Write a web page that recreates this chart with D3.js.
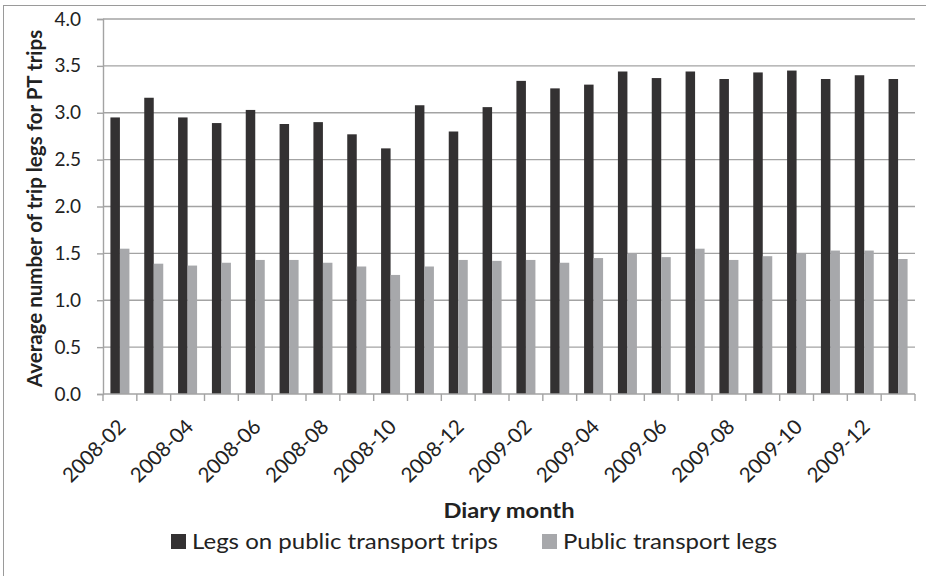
<!DOCTYPE html>
<html>
<head>
<meta charset="utf-8">
<script src="https://cdn.jsdelivr.net/npm/d3@7"></script>
<style>
  body { margin: 0; background: #fff; }
  text { font-family: Lato, "Open Sans", sans-serif; fill: #222; }
</style>
</head>
<body>
<div id="chart"></div>
<script>
const months = ["2008-02", "2008-03", "2008-04", "2008-05", "2008-06", "2008-07", "2008-08", "2008-09",
    "2008-10", "2008-11", "2008-12", "2009-01", "2009-02", "2009-03", "2009-04", "2009-05",
    "2009-06", "2009-07", "2009-08", "2009-09", "2009-10", "2009-11", "2009-12", "2010-01"];
const legsOnPtTrips = [2.95, 3.16, 2.95, 2.89, 3.03, 2.88, 2.90, 2.77, 2.62, 3.08, 2.80, 3.06,
    3.34, 3.26, 3.30, 3.44, 3.37, 3.44, 3.36, 3.43, 3.45, 3.36, 3.40, 3.36];
const ptLegs = [1.55, 1.39, 1.37, 1.40, 1.43, 1.43, 1.40, 1.36, 1.27, 1.36, 1.43, 1.42,
    1.43, 1.40, 1.45, 1.50, 1.46, 1.55, 1.43, 1.47, 1.50, 1.53, 1.53, 1.44];
const seriesNames = ["Legs on public transport trips", "Public transport legs"];
const yTicks = [0, 0.5, 1, 1.5, 2, 2.5, 3, 3.5, 4];

const width = 926, height = 576;
const margin = {top: 19, right: 11, bottom: 182, left: 103};
const colors = ["#333132", "#a7a8ab"];

const svg = d3.select("#chart").append("svg")
    .attr("width", width)
    .attr("height", height);

// outer frame (only left and top edges show)
svg.append("rect")
    .attr("x", 3.5).attr("y", 5.5)
    .attr("width", 930).attr("height", 580)
    .attr("fill", "none")
    .attr("stroke", "#9a9a9a");

const x = d3.scaleBand()
    .domain(months)
    .range([margin.left, width - margin.right]);

const x1 = d3.scaleBand()
    .domain([0, 1])
    .range([0, x.bandwidth()])
    .paddingInner(0)
    .paddingOuter(0.78);

const y = d3.scaleLinear()
    .domain([0, 4])
    .range([height - margin.bottom, margin.top]);

// gridlines
svg.append("g")
    .selectAll("line")
    .data(yTicks.filter(d => d > 0))
    .join("line")
    .attr("x1", margin.left)
    .attr("x2", width - margin.right)
    .attr("y1", d => y(d))
    .attr("y2", d => y(d))
    .attr("stroke", "#a3a3a3")
    .attr("stroke-width", 1.4);

// bars
const rows = months.map((m, i) => [legsOnPtTrips[i], ptLegs[i]]);
const groups = svg.append("g")
    .selectAll("g")
    .data(rows)
    .join("g")
    .attr("transform", (d, i) => `translate(${x(months[i])},0)`);

groups.selectAll("rect")
    .data(d => d)
    .join("rect")
    .attr("x", (d, j) => x1(j))
    .attr("width", x1.bandwidth())
    .attr("y", d => y(d))
    .attr("height", d => y(0) - y(d))
    .attr("fill", (d, j) => colors[j]);

// y axis
const yAxis = svg.append("g")
    .attr("transform", `translate(${margin.left},0)`)
    .call(d3.axisLeft(y).tickValues(yTicks).tickFormat(d3.format(".1f")).tickSize(6).tickPadding(16));
yAxis.select(".domain").attr("stroke", "#a3a3a3").attr("stroke-width", 1.4);
yAxis.selectAll(".tick line").attr("stroke", "#a3a3a3").attr("stroke-width", 1.4);
yAxis.selectAll(".tick text")
    .style("font-size", "19px")
    .attr("fill", "#222");

// x axis with ticks at category boundaries
const xAxis = svg.append("g")
    .attr("transform", `translate(0,${y(0)})`);
xAxis.append("line")
    .attr("x1", margin.left)
    .attr("x2", width - margin.right)
    .attr("stroke", "#a3a3a3")
    .attr("stroke-width", 1.4);
xAxis.selectAll(".bt")
    .data(months.concat(["end"]))
    .join("line")
    .attr("class", "bt")
    .attr("x1", (d, i) => margin.left + i * x.step())
    .attr("x2", (d, i) => margin.left + i * x.step())
    .attr("y1", 0)
    .attr("y2", 7)
    .attr("stroke", "#a3a3a3")
    .attr("stroke-width", 1.4);

xAxis.selectAll(".lbl")
    .data(months.filter((d, i) => i % 2 === 0))
    .join("text")
    .attr("class", "lbl")
    .attr("transform", d => `translate(${x(d) + x.bandwidth() / 2 + 7},${34}) rotate(-45)`)
    .attr("text-anchor", "end")
    .style("font-size", "20.5px")
    .text(d => d);

// axis titles
svg.append("text")
    .attr("x", (margin.left + width - margin.right) / 2)
    .attr("y", 518)
    .attr("text-anchor", "middle")
    .attr("textLength", 131)
    .attr("lengthAdjust", "spacingAndGlyphs")
    .style("font-size", "21px")
    .style("font-weight", "bold")
    .text("Diary month");

svg.append("text")
    .attr("transform", `translate(42,${(margin.top + y(0)) / 2 + 2}) rotate(-90)`)
    .attr("text-anchor", "middle")
    .style("font-size", "20.5px")
    .style("font-weight", "bold")
    .text("Average number of trip legs for PT trips");

// legend
const legendX = [171, 542];
const legendLen = [306, 214];
const legend = svg.append("g")
    .selectAll("g")
    .data(seriesNames)
    .join("g")
    .attr("transform", (d, i) => `translate(${legendX[i]},534)`);
legend.append("rect")
    .attr("width", 15)
    .attr("height", 15)
    .attr("fill", (d, i) => colors[i]);
legend.append("text")
    .attr("x", 21)
    .attr("y", 15)
    .attr("textLength", (d, i) => legendLen[i])
    .attr("lengthAdjust", "spacingAndGlyphs")
    .style("font-size", "21px")
    .text(d => d);
</script>
</body>
</html>
